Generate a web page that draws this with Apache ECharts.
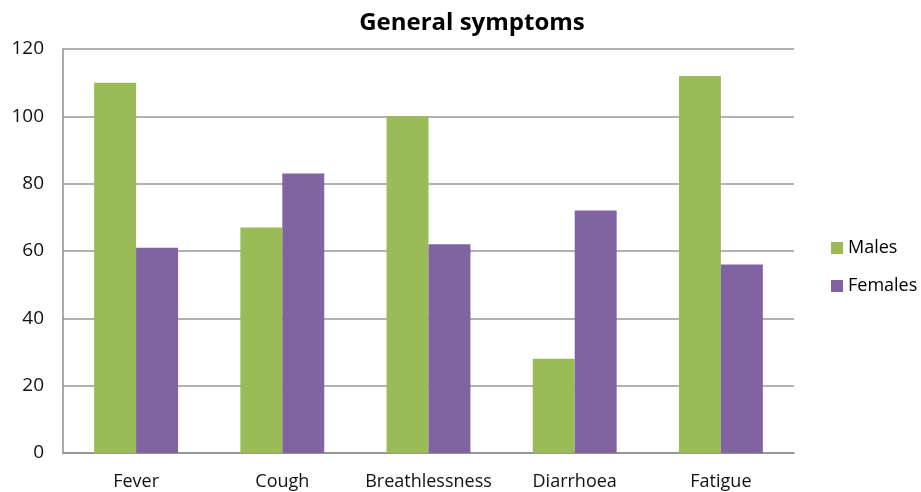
<!DOCTYPE html>
<html>
<head>
<meta charset="utf-8">
<script src="https://cdn.jsdelivr.net/npm/echarts@6/dist/echarts.min.js"></script>
<style>
  html, body { margin: 0; padding: 0; background: #fff; }
  #chart { width: 921px; height: 492px; }
</style>
</head>
<body>
<div id="chart"></div>
<script>
const categories = ['Fever', 'Cough', 'Breathlessness', 'Diarrhoea', 'Fatigue']
const males = [110, 67, 100, 28, 112]
const females = [61, 83, 62, 72, 56]
const yTicks = { min: 0, max: 120, interval: 20 }

const font = 'Open Sans, Lato, sans-serif'
const chart = echarts.init(document.getElementById('chart'))
chart.setOption({
  animation: false,
  title: {
    text: 'General symptoms',
    left: 467,
    top: 6,
    textAlign: 'center',
    textStyle: { fontFamily: font, fontSize: 24, fontWeight: 'bold', color: '#000' }
  },
  legend: {
    orient: 'vertical',
    left: 826,
    top: 234,
    itemWidth: 12,
    itemHeight: 12,
    itemGap: 20,
    icon: 'rect',
    textStyle: { fontFamily: font, fontSize: 18, color: '#000' },
    data: ['Males', 'Females']
  },
  grid: { left: 63, right: 127, top: 49, bottom: 39 },
  xAxis: {
    type: 'category',
    data: categories,
    axisLine: { lineStyle: { color: '#8c8c8c', width: 1.5 } },
    axisTick: { show: false },
    axisLabel: { interval: 0, fontFamily: font, fontSize: 18, color: '#111', margin: 20 }
  },
  yAxis: {
    type: 'value',
    min: yTicks.min,
    max: yTicks.max,
    interval: yTicks.interval,
    axisLine: { show: true, lineStyle: { color: '#8c8c8c', width: 1.5 } },
    axisTick: { show: false },
    axisLabel: { fontFamily: font, fontSize: 19, color: '#111', margin: 19 },
    splitLine: { lineStyle: { color: '#999', width: 1.5 } }
  },
  series: [
    {
      name: 'Males',
      type: 'bar',
      data: males,
      barWidth: '28.7%',
      barGap: '0%',
      itemStyle: { color: '#9BBB59' }
    },
    {
      name: 'Females',
      type: 'bar',
      data: females,
      barWidth: '28.7%',
      itemStyle: { color: '#8064A2' }
    }
  ]
})
</script>
</body>
</html>
